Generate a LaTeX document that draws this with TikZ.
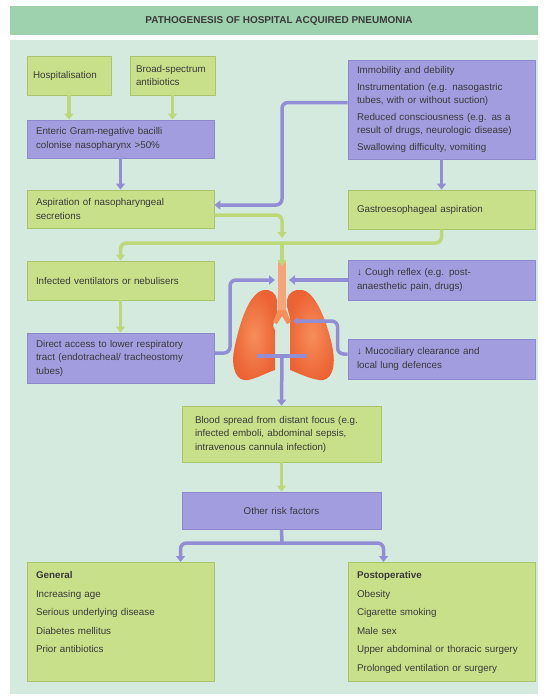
\documentclass[tikz,border=0pt]{standalone}
\usepackage{fontspec}
\setmainfont{Liberation Sans}
\usetikzlibrary{arrows.meta}

\definecolor{panelbg}{HTML}{D5EADF}
\definecolor{titlebg}{HTML}{9ED1AE}
\definecolor{limefill}{HTML}{C8E08A}
\definecolor{limeline}{HTML}{A9C56A}
\definecolor{lilacfill}{HTML}{A19DDF}
\definecolor{lilacline}{HTML}{8C88CC}
\definecolor{flowgreen}{HTML}{BCD878}
\definecolor{flowlilac}{HTML}{928ED6}
\definecolor{lungouter}{HTML}{EC6233}
\definecolor{lunginner}{HTML}{F68E5A}
\definecolor{inktext}{HTML}{3A3A3A}

\newcommand{\boxfont}{\fontsize{9.8}{13.5}\selectfont}

\begin{document}
\begin{tikzpicture}[x=1pt,y=-1pt,>={Triangle[width=9pt,length=6pt]},
    box/.style={line width=0.8pt,minimum width=187pt,minimum height=39pt,
      text width=169pt,inner xsep=9pt,inner ysep=4pt,align=left,font=\boxfont,text=inktext},
    greenbox/.style={box,draw=limeline,fill=limefill},
    lilacbox/.style={box,draw=lilacline,fill=lilacfill},
    greenpath/.style={draw=flowgreen,line width=3.5pt,rounded corners=6pt},
    lilacpath/.style={draw=flowlilac,line width=3.5pt,rounded corners=6pt},
    lung/.style={inner color=lunginner,outer color=lungouter}]
  \useasboundingbox (0,0) rectangle (548,699);
  % background panel and heading strip
  \fill[panelbg] (10,40) rectangle (538,694);
  \fill[titlebg] (10,6) rectangle (538,35);
  \node[font=\bfseries\fontsize{10}{12}\selectfont,text=inktext] (title) at (279,21)
    {PATHOGENESIS OF HOSPITAL ACQUIRED PNEUMONIA};

  % left column
  \node[greenbox,minimum width=84pt,text width=72pt,inner xsep=6pt] (hosp) at (69,75.5) {Hospitalisation};
  \node[greenbox,minimum width=85pt,text width=73pt,inner xsep=6pt] (abx) at (172.5,75.5) {Broad-spectrum\\antibiotics};
  \node[lilacbox,minimum height=38pt] (enteric) at (120.5,139) {Enteric Gram-negative bacilli\\colonise nasopharynx >50\%};
  \node[greenbox,minimum height=38pt] (aspir) at (120.5,209) {Aspiration of nasopharyngeal\\secretions};
  \node[greenbox] (ventil) at (120.5,280.5) {Infected ventilators or nebulisers};
  \node[lilacbox,minimum height=50pt] (direct) at (120.5,358) {Direct access to lower respiratory\\tract (endotracheal/ tracheostomy\\tubes)};

  % right column
  \node[lilacbox,minimum height=99pt] (immob) at (441.5,109.5) {Immobility and debility\\[3pt]
    Instrumentation (e.g. nasogastric\\tubes, with or without suction)\\[3pt]
    Reduced consciousness (e.g. as a\\result of drugs, neurologic disease)\\[3pt]
    Swallowing difficulty, vomiting};
  \node[greenbox] (gastro) at (441.5,209.5) {Gastroesophageal aspiration};
  \node[lilacbox,minimum height=40pt] (cough) at (441.5,280) {↓ Cough reflex (e.g. post-\\anaesthetic pain, drugs)};
  \node[lilacbox,minimum height=40pt] (mucocil) at (441.5,359) {↓ Mucociliary clearance and\\local lung defences};

  % centre column
  \node[greenbox,minimum width=199pt,text width=173pt,inner xsep=13pt,minimum height=56pt] (blood) at (281.5,434)
    {Blood spread from distant focus (e.g.\\infected emboli, abdominal sepsis,\\intravenous cannula infection)};
  \node[lilacbox,minimum width=199pt,text width=181pt,minimum height=37pt,align=center] (otherrisk) at (281.5,510.5) {Other risk factors};

  % risk factor lists
  \node[greenbox,anchor=north,inner ysep=9pt,text depth=94pt] (general) at (120.5,562)
    {\textbf{General}\\[5pt]Increasing age\\[5pt]Serious underlying disease\\[5pt]Diabetes mellitus\\[5pt]Prior antibiotics};
  \node[greenbox,anchor=north,inner ysep=9pt,text depth=94pt] (postop) at (441.5,562)
    {\textbf{Postoperative}\\[5pt]Obesity\\[5pt]Cigarette smoking\\[5pt]Male sex\\[5pt]Upper abdominal or thoracic surgery\\[5pt]Prolonged ventilation or surgery};

  % lungs and trachea
  \shade[lung] (264,290) .. controls (250,292) and (240,320) .. (234,350)
    .. controls (231,368) and (236,382) .. (248,380)
    .. controls (258,378) and (268,372) .. (275,370) -- (275,330)
    .. controls (272,326) and (273,322) .. (277,318) -- (277,300)
    .. controls (276,293) and (270,289) .. (264,290) -- cycle;
  \shade[lung] (301,290) .. controls (314,290) and (326,318) .. (332,345)
    .. controls (337,368) and (331,382) .. (319,380)
    .. controls (307,378) and (296,372) .. (290,370) -- (290,322)
    .. controls (291,318) and (288,312) .. (287,306) -- (287,300)
    .. controls (288,293) and (294,289) .. (301,290) -- cycle;
  \fill[lunginner!80!white] (278,262) rectangle (286,312);
  \fill[lunginner] (278,310) -- (286,310) -- (291,322) -- (287,324) -- (282,316) -- (277,324) -- (273,322) -- cycle;

  \coordinate (spine) at (282,243);
  \coordinate (trachtop) at (282,266);
  \coordinate (leftin) at (275,280);
  \coordinate (rightin) at (289,280);
  \coordinate (rbronch) at (294,321);
  \coordinate (tjoin) at (282,356);

  % green paths
  \draw[greenpath,->] (hosp.south) -- (hosp.south |- enteric.north);
  \draw[greenpath,->] (abx.south) -- (abx.south |- enteric.north);
  \draw[greenpath,->] ([yshift=-6pt]aspir.east) -| ([yshift=5pt]spine);
  \draw[greenpath,->] (gastro.south) |- (spine) -| (ventil.north);
  \draw[greenpath,->] (spine) -- (trachtop);
  \draw[greenpath,->] (ventil.south) -- (direct.north);
  \draw[greenpath,->] (blood.south) -- (otherrisk.north);

  % lilac paths
  \draw[lilacpath,->] (enteric.south) -- (aspir.north);
  \draw[lilacpath,->] ([yshift=7pt]immob.west) -| ([yshift=4pt]spine |- aspir.east) -- ([yshift=4pt]aspir.east);
  \draw[lilacpath,->] (immob.south) -- (gastro.north);
  \draw[lilacpath,->] ([yshift=5pt]direct.east) -| ([xshift=-45pt]leftin) -- (leftin);
  \draw[lilacpath,->] (cough.west) -- (rightin);
  \draw[lilacpath,-{Circle[length=6pt]}] ([yshift=5pt]mucocil.west) -- ++(-10,0) |- (rbronch);
  \draw[lilacpath] (257,356) -- (307,356);
  \draw[lilacpath,->] (tjoin) -- (blood.north);
  \coordinate (split) at (282,543);
  \draw[lilacpath] (otherrisk.south) -- (split);
  \draw[lilacpath,->] (split) -| ([xshift=60pt]general.north);
  \draw[lilacpath,->] (split) -| ([xshift=-58pt]postop.north);
\end{tikzpicture}
\end{document}
